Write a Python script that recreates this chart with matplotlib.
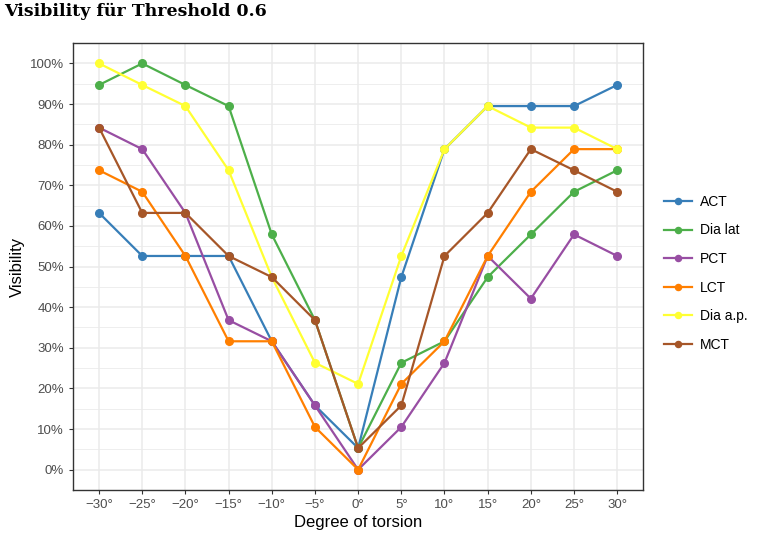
import matplotlib
matplotlib.use("Agg")
import matplotlib.pyplot as plt
import numpy as np
from matplotlib.ticker import FixedLocator, FuncFormatter

plt.rcParams['font.family'] = ['Liberation Sans', 'DejaVu Sans']

# Daten (Anteil sichtbar, n = 19)
degrees = [-30, -25, -20, -15, -10, -5, 0, 5, 10, 15, 20, 25, 30]
act = [63.2, 52.6, 52.6, 52.6, 31.6, 15.8, 5.3, 47.4, 78.9, 89.5, 89.5, 89.5, 94.7]
dia_lat = [94.7, 100, 94.7, 89.5, 57.9, 36.8, 5.3, 26.3, 31.6, 47.4, 57.9, 68.4, 73.7]
pct = [84.2, 78.9, 63.2, 36.8, 31.6, 15.8, 0, 10.5, 26.3, 52.6, 42.1, 57.9, 52.6]
lct = [73.7, 68.4, 52.6, 31.6, 31.6, 10.5, 0, 21.1, 31.6, 52.6, 68.4, 78.9, 78.9]
dia_ap = [100, 94.7, 89.5, 73.7, 47.4, 26.3, 21.1, 52.6, 78.9, 89.5, 84.2, 84.2, 78.9]
mct = [84.2, 63.2, 63.2, 52.6, 47.4, 36.8, 5.3, 15.8, 52.6, 63.2, 78.9, 73.7, 68.4]

series = [('ACT', act, '#377EB8'),
          ('Dia lat', dia_lat, '#4DAF4A'),
          ('PCT', pct, '#984EA3'),
          ('LCT', lct, '#FF7F00'),
          ('Dia a.p.', dia_ap, '#FFFF33'),
          ('MCT', mct, '#A65628')]

fig = plt.figure(figsize=(7.62, 5.39), dpi=100)
ax = fig.add_axes([0.096, 0.091, 0.748, 0.829])

for name, vals, col in series:
    ax.plot(degrees, np.array(vals) / 100, '-o', color=col, lw=1.6, ms=5.5, label=name)

ax.set_xlim(-33, 33)
ax.set_ylim(-0.05, 1.05)
ax.xaxis.set_major_locator(FixedLocator(degrees))
ax.xaxis.set_major_formatter(FuncFormatter(lambda v, p: f"{int(v)}°".replace('-', '\u2212')))
ax.yaxis.set_major_locator(FixedLocator(np.arange(0, 1.01, 0.1)))
ax.yaxis.set_minor_locator(FixedLocator(np.arange(0.05, 1.0, 0.1)))
ax.yaxis.set_major_formatter(FuncFormatter(lambda v, p: f"{v*100:.0f}%"))

ax.grid(True, which='major', color='#EBEBEB', lw=1.1)
ax.grid(True, which='minor', axis='y', color='#EBEBEB', lw=0.6)
ax.set_axisbelow(True)
for s in ax.spines.values():
    s.set_color('#333333')
    s.set_linewidth(1.0)
ax.tick_params(which='major', colors='#333333', labelcolor='#4D4D4D', labelsize=9.5, length=3)
ax.tick_params(which='minor', length=0)

ax.set_xlabel('Degree of torsion', fontsize=12, labelpad=3)
ax.set_ylabel('Visibility', fontsize=12, labelpad=4)
fig.text(0.005, 0.978, 'Visibility für Threshold 0.6', family='DejaVu Serif',
         fontweight='bold', fontsize=12.5, va='center', ha='left')

ax.legend(loc='center left', bbox_to_anchor=(1.015, 0.485), frameon=False,
          fontsize=10, handlelength=2.0, handletextpad=0.6,
          labelspacing=1.05, markerscale=0.8)

fig.savefig('out.png', dpi=100)
